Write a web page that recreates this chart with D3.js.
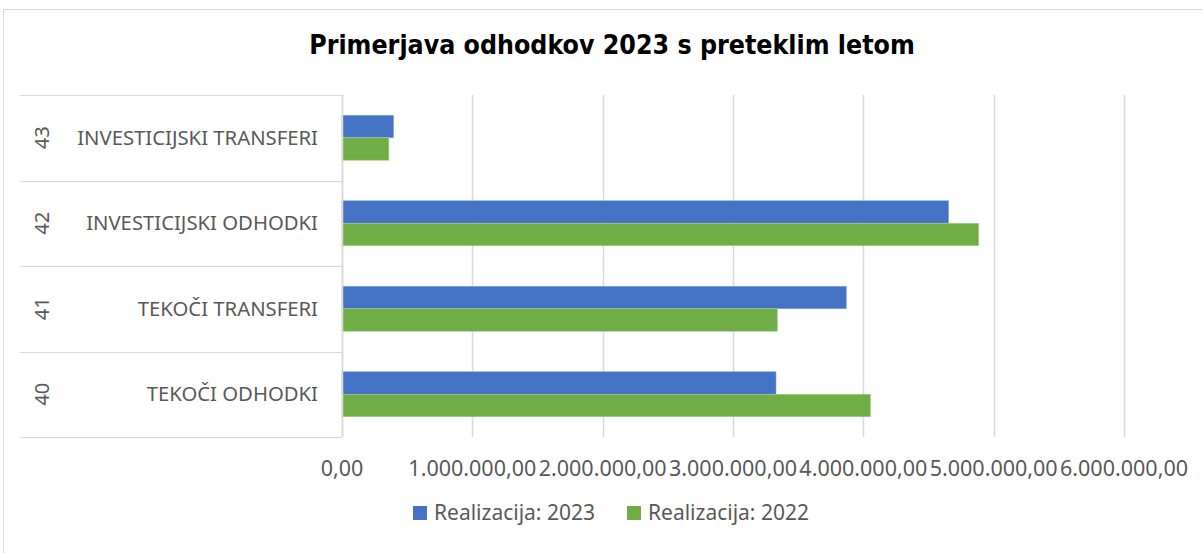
<!DOCTYPE html>
<html>
<head>
<meta charset="utf-8">
<script src="https://cdn.jsdelivr.net/npm/d3@7"></script>
<style>
  body { margin: 0; background: #fff; }
  text { font-family: "Noto Sans", sans-serif; }
</style>
</head>
<body>
<div id="chart-area"></div>
<script>
// chart data
var codes = ["40", "41", "42", "43"];
var categories = ["TEKOČI ODHODKI", "TEKOČI TRANSFERI", "INVESTICIJSKI ODHODKI", "INVESTICIJSKI TRANSFERI"];
var real2023 = [3330000, 3870000, 4655000, 396000];
var real2022 = [4055000, 3340000, 4885000, 360000];
var seriesNames = ["Realizacija: 2023", "Realizacija: 2022"];
var xTicks = [0, 1000000, 2000000, 3000000, 4000000, 5000000, 6000000];

var colors = ["#4472C4", "#70AD47"];
var grid = "#d9d9d9";
var textCol = "#595959";

var locale = d3.formatLocale({decimal: ",", thousands: ".", grouping: [3], currency: ["", ""]});
var fmt = locale.format(",.2f");

var W = 1203, H = 553;
var svg = d3.select("#chart-area").append("svg")
    .attr("width", W)
    .attr("height", H);

// outer chart border
svg.append("rect")
    .attr("x", 3.5).attr("y", 9.5)
    .attr("width", W + 10).attr("height", H + 10)
    .attr("fill", "#fff")
    .attr("stroke", grid);

svg.append("text")
    .attr("x", 612)
    .attr("y", 54)
    .attr("text-anchor", "middle")
    .attr("font-size", "26.5px")
    .attr("font-weight", "bold")
    .attr("fill", "#000")
    .style("font-family", "'DejaVu Sans Condensed', 'DejaVu Sans', sans-serif")
    .text("Primerjava odhodkov 2023 s preteklim letom");

var plot = {left: 342, right: 1124, top: 95, bottom: 437};

var x = d3.scaleLinear()
    .domain([0, 6000000])
    .range([plot.left, plot.right]);

var rows = categories.map(function(c, i){
    return {code: codes[i], name: c, vals: [real2023[i], real2022[i]]};
});

var y = d3.scaleBand()
    .domain(categories.slice().reverse())
    .range([plot.top, plot.bottom]);

var ySub = d3.scaleBand()
    .domain([0, 1])
    .range([0, y.bandwidth()])
    .paddingInner(0)
    .paddingOuter(0.9);

// vertical gridlines
svg.append("g")
    .selectAll("line")
    .data(xTicks)
    .enter()
    .append("line")
    .attr("x1", function(d){ return Math.round(x(d)) + 0.5; })
    .attr("x2", function(d){ return Math.round(x(d)) + 0.5; })
    .attr("y1", plot.top)
    .attr("y2", plot.bottom)
    .attr("stroke", grid)
    .attr("stroke-width", 1.5);

// category separators in label area
var seps = y.domain().map(function(c){ return y(c); }).concat([plot.bottom]);
svg.append("g")
    .selectAll("line")
    .data(seps)
    .enter()
    .append("line")
    .attr("x1", 20)
    .attr("x2", plot.left)
    .attr("y1", function(d){ return Math.round(d) + 0.5; })
    .attr("y2", function(d){ return Math.round(d) + 0.5; })
    .attr("stroke", grid)
    .attr("stroke-width", 1.2);

// bars
var groups = svg.append("g")
    .selectAll("g")
    .data(rows)
    .enter()
    .append("g")
    .attr("transform", function(d){ return "translate(0," + y(d.name) + ")"; });

groups.selectAll("rect")
    .data(function(d){ return d.vals; })
    .enter()
    .append("rect")
    .attr("x", x(0))
    .attr("y", function(d, i){ return ySub(i); })
    .attr("width", function(d){ return x(d) - x(0); })
    .attr("height", ySub.bandwidth())
    .attr("fill", function(d, i){ return colors[i]; })
    .attr("stroke", function(d, i){ return i == 0 ? "#8eaadb" : "#a9d08e"; })
    .attr("stroke-width", 0.6);

// category labels
groups.append("text")
    .attr("x", 318)
    .attr("y", y.bandwidth() / 2)
    .attr("dy", "0.35em")
    .attr("text-anchor", "end")
    .attr("font-size", "20.3px")
    .attr("fill", textCol)
    .text(function(d){ return d.name; });

groups.append("text")
    .attr("transform", "translate(42," + (y.bandwidth() / 2) + ") rotate(-90)")
    .attr("dy", "0.35em")
    .attr("text-anchor", "middle")
    .attr("font-size", "20.3px")
    .attr("fill", textCol)
    .text(function(d){ return d.code; });

// value axis line
svg.append("line")
    .attr("x1", plot.left + 0.5).attr("x2", plot.left + 0.5)
    .attr("y1", plot.top).attr("y2", plot.bottom)
    .attr("stroke", grid)
    .attr("stroke-width", 1.5);

// x tick labels
svg.append("g")
    .selectAll("text")
    .data(xTicks)
    .enter()
    .append("text")
    .attr("x", function(d){ return x(d); })
    .attr("y", 476)
    .attr("text-anchor", "middle")
    .attr("font-size", "21.5px")
    .attr("fill", textCol)
    .text(function(d){ return fmt(d); });

// legend
var legX = [413, 627];
var leg = svg.append("g")
    .selectAll("g")
    .data(seriesNames)
    .enter()
    .append("g")
    .attr("transform", function(d, i){ return "translate(" + legX[i] + ",506)"; });

leg.append("rect")
    .attr("width", 14)
    .attr("height", 14)
    .attr("fill", function(d, i){ return colors[i]; });

leg.append("text")
    .attr("x", 21)
    .attr("y", 7)
    .attr("dy", "0.35em")
    .attr("font-size", "21px")
    .attr("fill", textCol)
    .text(function(d){ return d; });
</script>
</body>
</html>
